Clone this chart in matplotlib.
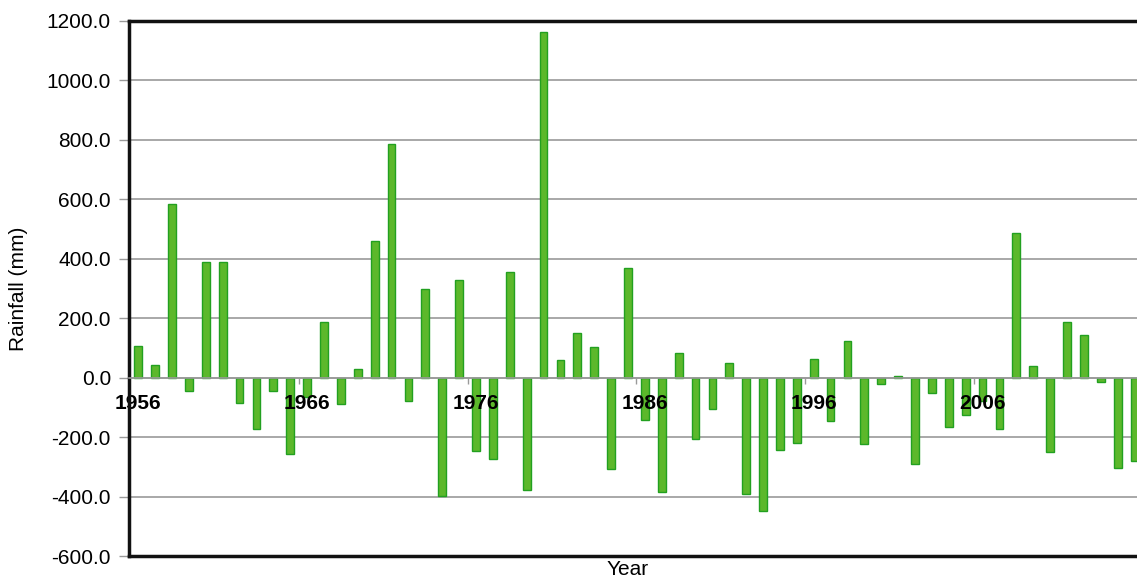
#!/usr/bin/env python3
"""
Jährliche Niederschlagsabweichung (mm) 1956-2015 als Balkendiagramm.
"""

import matplotlib
matplotlib.use("Agg")
import matplotlib.pyplot as plt
from matplotlib.ticker import FixedLocator, FormatStrFormatter

plt.rcParams['font.family'] = ['Liberation Sans', 'DejaVu Sans']

# Daten
years = list(range(1956, 2016))
rainfall = [
    108, 44, 584, -44, 390, 390, -86, -174, -46, -257,
    -65, 188, -88, 29, 459, 786, -78, 299, -397, 330,
    -247, -275, 355, -379, 1164, 61, 151, 103, -307, 368,
    -141, -383, 83, -207, -105, 50, -393, -450, -244, -219,
    62, -147, 123, -222, -22, 4, -290, -51, -166, -126,
    -80, -174, 488, 40, -249, 186, 142, -14, -305, -279,
]
label_years = [1956, 1966, 1976, 1986, 1996, 2006]
y_ticks = [-600, -400, -200, 0, 200, 400, 600, 800, 1000, 1200]

W, H = 1137, 580
fig = plt.figure(figsize=(W / 100, H / 100), dpi=100)
ax = fig.add_axes([129 / W, 24 / H, (1143 - 129) / W, (556 - 21) / H])

idx = list(range(len(years)))
ax.bar(idx, rainfall, width=0.46, color='#5cb82b', edgecolor='#22a020',
       linewidth=1.0, zorder=1)

ax.set_xlim(-0.55, len(years) - 0.5)
ax.set_ylim(-600, 1200)

# Gitterlinien hinter den Balken
for yv in y_ticks:
    ax.axhline(yv, color='#9a9a9a', linewidth=1.2, zorder=0.5)

# y-Achse
ax.yaxis.set_major_locator(FixedLocator(y_ticks))
ax.yaxis.set_major_formatter(FormatStrFormatter('%.1f'))
ax.tick_params(axis='y', length=7, width=1, color='#9a9a9a', pad=6,
               labelsize=15)

# x-Achse liegt auf der Nulllinie, Beschriftung alle 10 Jahre
ax.spines['bottom'].set_position(('data', 0))
ax.spines['bottom'].set_color('#9a9a9a')
ax.spines['bottom'].set_linewidth(1.2)
ax.set_xticks([years.index(y) for y in label_years])
ax.set_xticklabels([str(y) for y in label_years], fontweight='bold')
ax.tick_params(axis='x', which='major', length=0, pad=12, labelsize=15)
ax.set_xticks([years.index(y) - 0.5 for y in label_years[1:]], minor=True)
ax.tick_params(axis='x', which='minor', length=4, width=1, color='#9a9a9a',
               direction='out')

# Rahmen
for side in ['left', 'top']:
    ax.spines[side].set_linewidth(2.5)
    ax.spines[side].set_color('#111111')
ax.spines['right'].set_visible(False)
ax.axhline(-600, color='#111111', linewidth=2.5, clip_on=False, zorder=3)

ax.set_ylabel('Rainfall (mm)', fontsize=15)
ax.yaxis.set_label_coords(-0.1, 0.5)
fig.text(628 / W, 1 / H, 'Year', fontsize=15, ha='center', va='bottom')

fig.savefig('out.png', dpi=100)
